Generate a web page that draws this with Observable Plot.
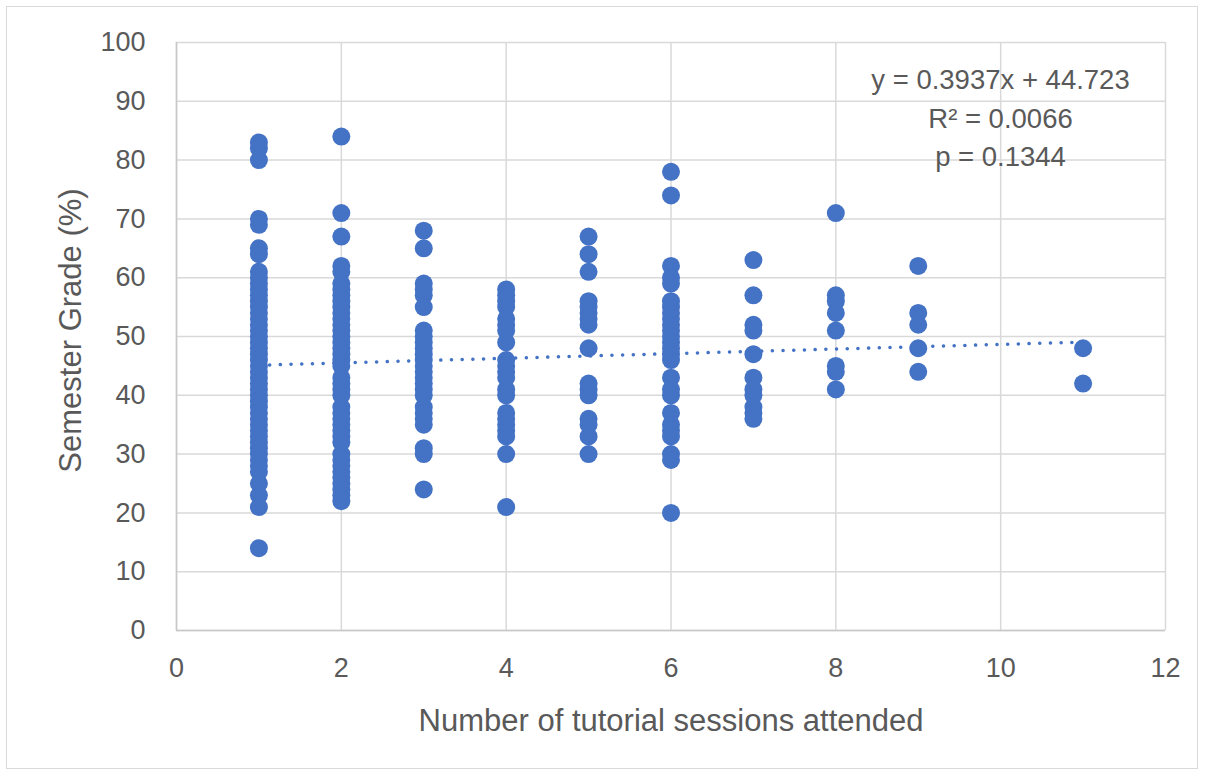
<!DOCTYPE html>
<html>
<head>
<meta charset="utf-8">
<script src="https://cdn.jsdelivr.net/npm/d3@7"></script>
<script src="https://cdn.jsdelivr.net/npm/@observablehq/plot@0.6"></script>
<style>
  html, body { margin: 0; padding: 0; background: #fff; }
  #wrap { position: relative; width: 1205px; height: 777px; }
  #frame { position: absolute; left: 6px; top: 6px; width: 1192px; height: 763px; border: 1.5px solid #d9d9d9; box-sizing: border-box; pointer-events: none; }
</style>
</head>
<body>
<div id="wrap"><div id="frame"></div></div>
<script>
// Sessions attended (x) and semester grades (%)
const sessions = [1, 2, 3, 4, 5, 6, 7, 8, 9, 11];
const grades1 = [83, 82, 80, 70, 69, 65, 64, 61, 60, 59, 58, 57, 56, 55, 54, 53, 52, 51, 50, 49, 48, 47, 46, 45, 44, 43, 42, 41, 40, 39, 38, 37, 36, 35, 34, 33, 32, 31, 30, 29, 28, 27, 25, 23, 21, 14];
const grades2 = [84, 71, 67, 62, 61, 59, 58, 57, 56, 55, 54, 53, 52, 51, 50, 49, 48, 47, 46, 45, 43, 42, 41, 40, 38, 37, 36, 35, 34, 33, 32, 30, 29, 28, 27, 26, 25, 24, 23, 22];
const grades3 = [68, 65, 59, 58, 57, 55, 51, 50, 49, 48, 47, 46, 45, 44, 43, 42, 41, 40, 38, 37, 36, 35, 31, 30, 24];
const grades4 = [58, 57, 56, 55, 53, 52, 51, 49, 46, 45, 44, 43, 41, 40, 37, 36, 35, 34, 33, 30, 21];
const grades5 = [67, 64, 61, 56, 55, 54, 53, 52, 48, 42, 41, 40, 36, 35, 33, 30];
const grades6 = [78, 74, 62, 60, 59, 56, 55, 54, 53, 52, 51, 50, 49, 48, 47, 46, 43, 41, 40, 37, 35, 34, 33, 30, 29, 20];
const grades7 = [63, 57, 52, 51, 47, 43, 41, 40, 38, 37, 36];
const grades8 = [71, 57, 56, 54, 51, 45, 44, 41];
const grades9 = [62, 54, 52, 48, 44];
const grades11 = [48, 42];
const gradeLists = [grades1, grades2, grades3, grades4, grades5, grades6, grades7, grades8, grades9, grades11];

// Trendline coefficients shown on the chart
const slope = 0.3937;
const intercept = 44.723;
const trendText = ["y = 0.3937x + 44.723", "R² = 0.0066", "p = 0.1344"];

const xTicks = [0, 2, 4, 6, 8, 10, 12];
const yTicks = [0, 10, 20, 30, 40, 50, 60, 70, 80, 90, 100];

const points = sessions.flatMap((s, i) => gradeLists[i].map(g => ({sessions: s, grade: g})));
const xMin = d3.min(sessions), xMax = d3.max(sessions);
const trend = [xMin, xMax].map(x => ({sessions: x, grade: slope * x + intercept}));

const grid = "#d9d9d9";
const textColor = "#595959";
const blue = "#4472C4";

const chart = Plot.plot({
  width: 1205,
  height: 777,
  marginLeft: 176,
  marginRight: 40,
  marginTop: 42,
  marginBottom: 147,
  style: {fontFamily: "'Liberation Sans', Arial, sans-serif", color: textColor, background: "transparent"},
  x: {domain: [0, 12]},
  y: {domain: [0, 100]},
  marks: [
    Plot.gridX(xTicks, {stroke: grid, strokeOpacity: 1, strokeWidth: 1.5}),
    Plot.gridY(yTicks, {stroke: grid, strokeOpacity: 1, strokeWidth: 1.5}),
    Plot.ruleX([0], {stroke: "#c8c8c8", strokeWidth: 1.5}),
    Plot.ruleY([0], {stroke: "#c8c8c8", strokeWidth: 1.5}),
    Plot.axisX({ticks: xTicks, tickSize: 0, tickPadding: 27, fontSize: 27, label: null}),
    Plot.axisY({ticks: yTicks, tickSize: 0, tickPadding: 31, fontSize: 27, label: null}),
    Plot.dot(points, {x: "sessions", y: "grade", r: 9, fill: blue, stroke: "none"}),
    Plot.line(trend, {x: "sessions", y: "grade", stroke: blue, strokeWidth: 3.5, strokeLinecap: "round", strokeDasharray: "0.1 10.6"}),
    Plot.text([trendText[0]], {frameAnchor: "top-right", dx: -165, dy: 38, textAnchor: "middle", lineAnchor: "middle", fontSize: 27.5, fill: textColor}),
    Plot.text([trendText[1]], {frameAnchor: "top-right", dx: -165, dy: 77, textAnchor: "middle", lineAnchor: "middle", fontSize: 27.5, fill: textColor}),
    Plot.text([trendText[2]], {frameAnchor: "top-right", dx: -165, dy: 115, textAnchor: "middle", lineAnchor: "middle", fontSize: 27.5, fill: textColor}),
    Plot.text(["Number of tutorial sessions attended"], {frameAnchor: "bottom", dy: 91, textAnchor: "middle", lineAnchor: "middle", fontSize: 31, fill: textColor}),
    Plot.text(["Semester Grade (%)"], {frameAnchor: "left", dx: -105, dy: -6, rotate: -90, textAnchor: "middle", lineAnchor: "middle", fontSize: 31, fill: textColor})
  ]
});
document.getElementById("wrap").prepend(chart);
</script>
</body>
</html>
